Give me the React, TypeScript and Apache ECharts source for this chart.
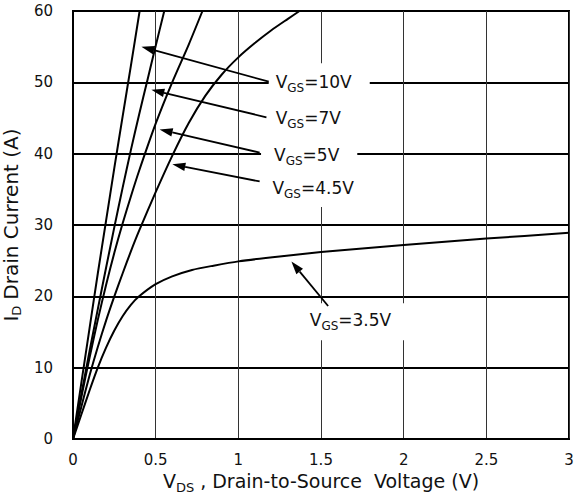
import React, { useEffect, useRef } from "react";
import * as echarts from "echarts";

// Output characteristics: drain current I_D (A) versus V_DS (V) for several gate voltages.
const gateLabels = ["10V", "7V", "5V", "4.5V", "3.5V"];

const vgs10: [number, number][] = [
  [0, 0], [0.05, 7.8], [0.1, 15.5], [0.15, 23.2], [0.2, 30.6], [0.25, 38.0],
  [0.3, 45.2], [0.35, 52.3], [0.403, 60],
];
const vgs7: [number, number][] = [
  [0, 0], [0.05, 6.2], [0.1, 12.3], [0.15, 18.2], [0.2, 24.0], [0.25, 29.7],
  [0.3, 35.2], [0.35, 40.5], [0.4, 45.5], [0.45, 50.3], [0.5, 55.1], [0.552, 60],
];
const vgs5: [number, number][] = [
  [0, 0], [0.05, 5.8], [0.1, 11.4], [0.15, 16.7], [0.2, 21.6], [0.25, 26.1],
  [0.3, 30.2], [0.35, 34.0], [0.4, 37.6], [0.5, 44.2], [0.6, 50.0], [0.7, 55.3],
  [0.783, 60],
];
const vgs45: [number, number][] = [
  [0, 0], [0.05, 4.5], [0.1, 8.9], [0.15, 12.9], [0.2, 16.6], [0.25, 20.0],
  [0.3, 23.2], [0.35, 26.3], [0.4, 29.2], [0.5, 34.6], [0.6, 39.7], [0.7, 44.3],
  [0.8, 48.1], [0.9, 51.1], [1.0, 53.5], [1.1, 55.5], [1.2, 57.3], [1.3, 58.9],
  [1.37, 60],
];
const vgs35: [number, number][] = [
  [0, 0], [0.05, 3.4], [0.1, 6.8], [0.15, 10.0], [0.2, 12.8], [0.25, 15.2],
  [0.3, 17.2], [0.35, 18.8], [0.4, 20.0], [0.5, 21.7], [0.6, 22.8], [0.72, 23.7],
  [0.85, 24.3], [1.0, 24.9], [1.25, 25.6], [1.5, 26.2], [2.0, 27.2], [2.5, 28.1],
  [3.0, 28.9],
];
const curveData = [vgs10, vgs7, vgs5, vgs45, vgs35];

// Axis ranges and tick steps
const vdsRange = [0, 3];
const vdsStep = 0.5;
const idRange = [0, 60];
const idStep = 10;

// Callouts in data units: arrow tip, arrow tail, label anchor (left, middle)
const arrowTips: [number, number][] = [
  [0.414, 55.0], [0.474, 48.95], [0.524, 43.4], [0.601, 38.5], [1.321, 24.87],
];
const arrowTails: [number, number][] = [
  [1.184, 50.1], [1.17, 45.1], [1.129, 40.15], [1.129, 36.1], [1.543, 18.65],
];
const labelAnchors: [number, number][] = [
  [1.226, 50.0], [1.226, 45.0], [1.216, 39.8], [1.206, 35.2], [1.432, 16.45],
];

const FONT = "'DejaVu Sans', sans-serif";
const INK = "#111";

export default function App() {
  const ref = useRef<HTMLDivElement>(null);

  useEffect(() => {
    const el = ref.current!;
    const chart = echarts.init(el, null, { renderer: "svg" });

    const series = curveData.map((pts, i) => ({
      name: "VGS=" + gateLabels[i],
      type: "line",
      data: pts,
      showSymbol: false,
      smooth: 0.25,
      clip: true,
      lineStyle: { color: "#000", width: 2 },
      z: 3,
    }));

    chart.setOption({
      animation: false,
      backgroundColor: "#fff",
      grid: {
        left: 73,
        right: 5,
        top: 11,
        bottom: 60,
        outerBoundsMode: "none",
        containLabel: false,
        show: true,
        borderColor: "#000",
        borderWidth: 2,
      },
      xAxis: {
        type: "value",
        min: vdsRange[0],
        max: vdsRange[1],
        interval: vdsStep,
        axisLine: { show: true, lineStyle: { color: "#000", width: 2 } },
        axisTick: { show: false },
        axisLabel: {
          fontSize: 15,
          fontFamily: FONT,
          color: INK,
          margin: 13,
          showMinLabel: true,
          showMaxLabel: true,
        },
        splitLine: { show: true, lineStyle: { color: "#333", width: 1 } },
        name: "{m|V}{s|DS}{c|,}{m|Drain-to-Source}{g|Voltage (V)}",
        nameLocation: "middle",
        nameGap: 29,
        nameTextStyle: {
          rich: {
            m: { fontSize: 19, fontFamily: FONT, color: INK, lineHeight: 26 },
            s: { fontSize: 13, fontFamily: FONT, color: INK, lineHeight: 13, verticalAlign: "bottom" },
            c: { fontSize: 19, fontFamily: FONT, color: INK, lineHeight: 26, padding: [0, 6, 0, 6] },
            g: { fontSize: 19, fontFamily: FONT, color: INK, lineHeight: 26, padding: [0, 0, 0, 12] },
          },
        },
      },
      yAxis: {
        type: "value",
        min: idRange[0],
        max: idRange[1],
        interval: idStep,
        axisLine: { show: true, lineStyle: { color: "#000", width: 2 } },
        axisTick: { show: false },
        axisLabel: { fontSize: 15, fontFamily: FONT, color: INK, margin: 20 },
        splitLine: { show: true, lineStyle: { color: "#000", width: 1.8 } },
        name: "{m|I}{s|D}{p|Drain Current (A)}",
        nameLocation: "middle",
        nameGap: 39,
        nameTextStyle: {
          rich: {
            m: { fontSize: 20, fontFamily: FONT, color: INK, lineHeight: 24 },
            s: { fontSize: 13, fontFamily: FONT, color: INK, lineHeight: 13, verticalAlign: "bottom" },
            p: { fontSize: 20, fontFamily: FONT, color: INK, lineHeight: 24, padding: [0, 0, 0, 6] },
          },
        },
      },
      series,
    });

    // Callout arrows and gate-voltage labels, placed from data coordinates
    const toPx = (p: [number, number]) =>
      chart.convertToPixel({ gridIndex: 0 }, p) as number[];

    const graphics: any[] = [];
    const padL = [7, 9, 13, 12, 6];

    gateLabels.forEach((g, i) => {
      const tip = toPx(arrowTips[i]);
      const tail = toPx(arrowTails[i]);
      const dx = tail[0] - tip[0];
      const dy = tail[1] - tip[1];
      const len = Math.hypot(dx, dy);
      const ux = dx / len;
      const uy = dy / len;
      const headLen = 13;
      const half = 4.3;
      const bx = tip[0] + ux * headLen;
      const by = tip[1] + uy * headLen;
      graphics.push({
        type: "line",
        z: 20,
        shape: { x1: tail[0], y1: tail[1], x2: bx, y2: by },
        style: { stroke: "#000", lineWidth: 1.8 },
      });
      graphics.push({
        type: "polygon",
        z: 20,
        shape: {
          points: [
            [tip[0], tip[1]],
            [bx - uy * half, by + ux * half],
            [bx + uy * half, by - ux * half],
          ],
        },
        style: { fill: "#000" },
      });
      const a = toPx(labelAnchors[i]);
      graphics.push({
        type: "text",
        z: 15,
        x: a[0] - padL[i],
        y: a[1],
        style: {
          text: "{m|V}{s|GS}{m|=" + g + "}",
          align: "left",
          verticalAlign: "middle",
          backgroundColor: "#fff",
          padding: i === 4 ? [5, 14, 8, padL[i]] : [7, 18, 7, padL[i]],
          rich: {
            m: { fontSize: 17, fontFamily: FONT, fill: INK, lineHeight: 24 },
            s: { fontSize: 12, fontFamily: FONT, fill: INK, lineHeight: 12, verticalAlign: "bottom" },
          },
        },
      });
    });

    chart.setOption({ graphic: graphics });

    return () => chart.dispose();
  }, []);

  return (
    <div
      ref={ref}
      style={{ position: "fixed", left: 0, top: 0, width: 574, height: 499 }}
    />
  );
}
